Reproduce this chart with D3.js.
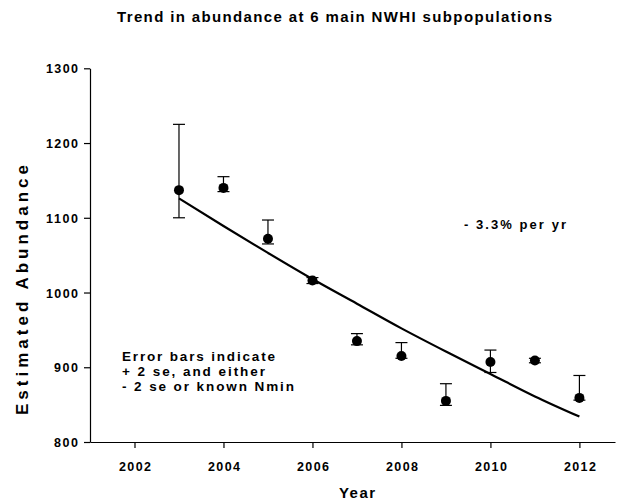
<!DOCTYPE html>
<html>
<head>
<meta charset="utf-8">
<script src="https://cdn.jsdelivr.net/npm/d3@7"></script>
<style>
  html, body { margin: 0; padding: 0; background: #fff; }
  svg text { font-family: "Liberation Sans", Arial, sans-serif; font-weight: bold; fill: #000; }
</style>
</head>
<body>
<svg id="chart" width="618" height="504"></svg>
<script>
// ---- data ----
const years = [2003, 2004, 2005, 2006, 2007, 2008, 2009, 2010, 2011, 2012];
const abundance = [1137, 1140, 1072, 1016, 935, 915, 855, 907, 909, 859];
const upperBar = [1225, 1155, 1097, 1020, 945, 933, 878, 923, 912, 889];
const lowerBar = [1100, 1135, 1065, 1012, 930, 912, 849, 893, 906, 856];
const trendValues = [1126, 1089, 1053, 1018, 985, 952, 921, 891, 861, 834];
const yTicks = [800, 900, 1000, 1100, 1200, 1300];
const xTicks = [2002, 2004, 2006, 2008, 2010, 2012];
const titleText = "Trend in abundance at 6 main NWHI subpopulations";
const xTitle = "Year";
const yTitle = "Estimated Abundance";
const trendLabel = "- 3.3%  per yr";
const noteLines = ["Error bars indicate", "+ 2 se, and either", "- 2 se or known Nmin"];

// ---- drawing ----
const svg = d3.select("#chart");
const x = d3.scaleLinear().domain([2001, 2012.8]).range([90, 615]);
const y = d3.scaleLinear().domain([800, 1300]).range([442, 68.3]);

// title
svg.append("text").attr("x", 117).attr("y", 22)
  .attr("font-size", 15).attr("textLength", 435).attr("lengthAdjust", "spacing")
  .text(titleText);

// axes
const yAxis = svg.append("g").attr("transform", "translate(90,0)")
  .call(d3.axisLeft(y).tickValues(yTicks).tickSize(6).tickSizeOuter(0).tickPadding(6).tickFormat(d3.format("d")));
const xAxis = svg.append("g").attr("transform", "translate(0,442)")
  .call(d3.axisBottom(x).tickValues(xTicks).tickSize(6).tickSizeOuter(0).tickFormat(d3.format("d")));

[yAxis, xAxis].forEach(g => {
  g.select(".domain").attr("stroke", "#000").attr("stroke-width", 1.2);
  g.selectAll(".tick line").attr("stroke", "#000").attr("stroke-width", 1.2);
  g.selectAll(".tick text").attr("font-size", 12.5)
    .attr("font-family", "'Liberation Sans', Arial, sans-serif").attr("font-weight", "bold")
    .attr("fill", "#000")
    .attr("textLength", function () { return this.textContent.length * 8; })
    .attr("lengthAdjust", "spacing");
});
yAxis.selectAll(".tick text").attr("dy", "0.36em");
xAxis.selectAll(".tick text").attr("y", 29).attr("dy", 0);

// axis titles
svg.append("text").attr("x", 357).attr("y", 498).attr("text-anchor", "middle")
  .attr("font-size", 15).attr("textLength", 36).attr("lengthAdjust", "spacing")
  .text(xTitle);
svg.append("text").attr("transform", "translate(28,290) rotate(-90)").attr("text-anchor", "middle")
  .attr("font-size", 17).attr("textLength", 250).attr("lengthAdjust", "spacing")
  .text(yTitle);

// trend line
const trend = years.map((yr, i) => ({ yr, v: trendValues[i] }));
svg.append("path").datum(trend)
  .attr("fill", "none").attr("stroke", "#000").attr("stroke-width", 2.2)
  .attr("d", d3.line().x(d => x(d.yr)).y(d => y(d.v)).curve(d3.curveMonotoneX));

// error bars and points
const pts = years.map((yr, i) => ({ yr, v: abundance[i], hi: upperBar[i], lo: lowerBar[i] }));
const eb = svg.append("g").attr("stroke", "#000").attr("stroke-width", 1.2);
eb.selectAll("line.v").data(pts).join("line").attr("class", "v")
  .attr("x1", d => x(d.yr)).attr("x2", d => x(d.yr))
  .attr("y1", d => y(d.hi)).attr("y2", d => y(d.lo));
eb.selectAll("line.hc").data(pts).join("line").attr("class", "hc")
  .attr("x1", d => x(d.yr) - 6).attr("x2", d => x(d.yr) + 6)
  .attr("y1", d => y(d.hi)).attr("y2", d => y(d.hi));
eb.selectAll("line.lc").data(pts).join("line").attr("class", "lc")
  .attr("x1", d => x(d.yr) - 6).attr("x2", d => x(d.yr) + 6)
  .attr("y1", d => y(d.lo)).attr("y2", d => y(d.lo));
svg.append("g").selectAll("circle").data(pts).join("circle")
  .attr("cx", d => x(d.yr)).attr("cy", d => y(d.v)).attr("r", 5).attr("fill", "#000");

// annotations
svg.append("text").attr("x", 464).attr("y", 229)
  .attr("font-size", 13).attr("textLength", 102).attr("lengthAdjust", "spacing")
  .text(trendLabel);
const noteLens = [153, 143, 172];
noteLines.forEach((t, i) => {
  svg.append("text").attr("x", 122).attr("y", 361 + i * 15)
    .attr("font-size", 13.5).attr("textLength", noteLens[i]).attr("lengthAdjust", "spacing")
    .text(t);
});
</script>
</body>
</html>
